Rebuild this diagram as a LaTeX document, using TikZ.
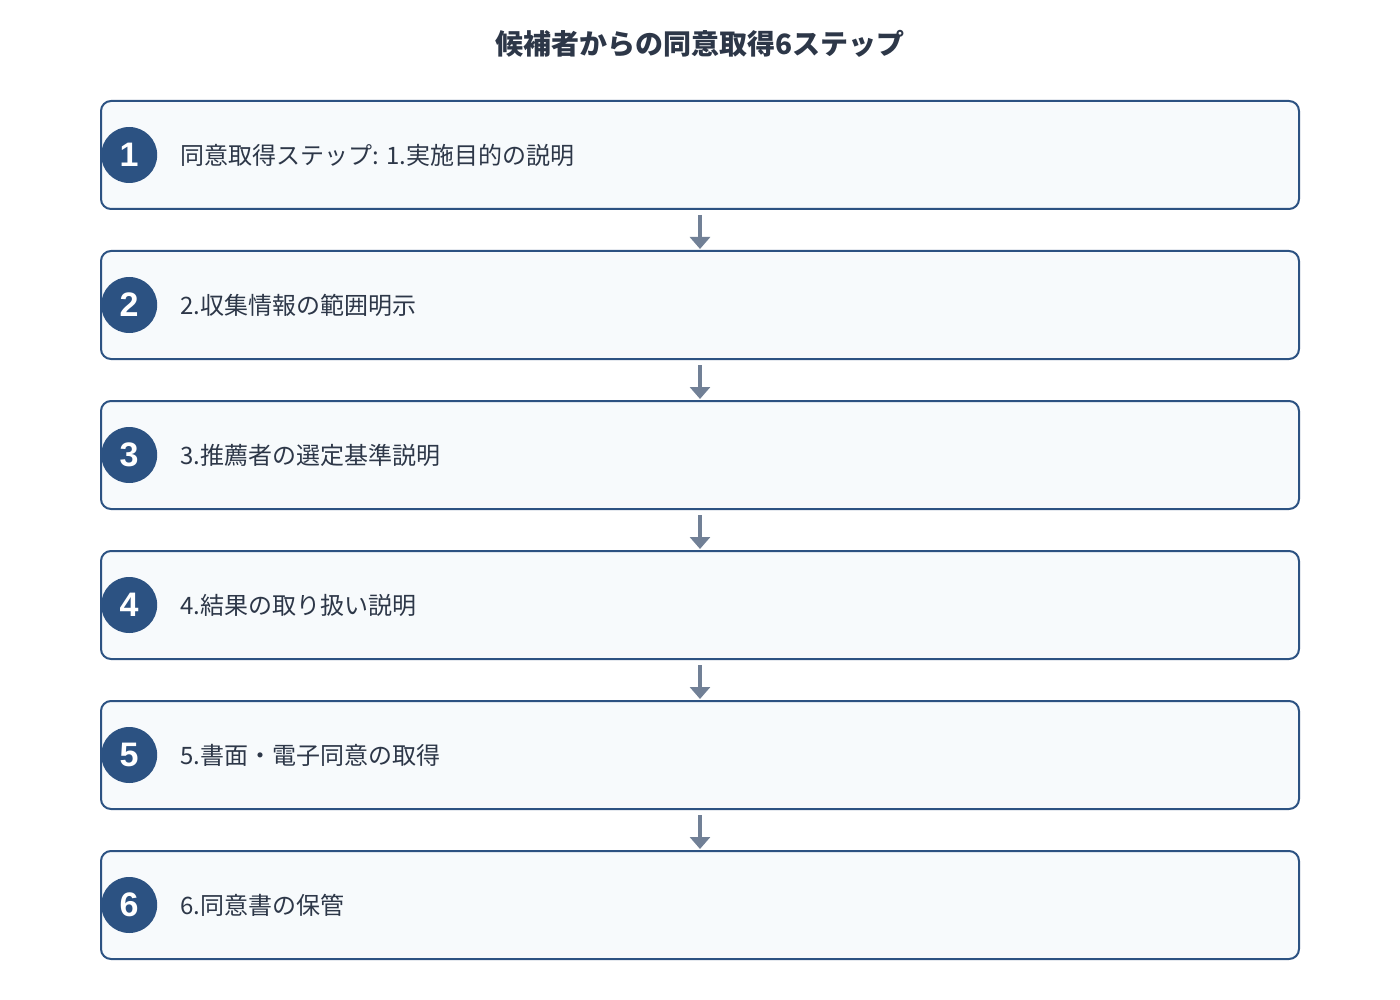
\documentclass[tikz,border=0pt]{standalone}
\usepackage{fontspec}
\usepackage[dvipsnames]{xcolor}
\usetikzlibrary{positioning,arrows.meta}
\newfontfamily\jp{Noto Sans CJK JP}
\newfontfamily\numfont{Liberation Sans}
\definecolor{stepblue}{HTML}{2C5282}
\definecolor{stepfill}{HTML}{F7FAFC}
\definecolor{arrowgray}{HTML}{718096}
\definecolor{textdark}{HTML}{2D3748}

\begin{document}
\begin{tikzpicture}[x=1pt,y=-1pt,>={Triangle[width=20pt,length=12pt]},shorten >=1pt,shorten <=5pt,node distance=150pt,
    step box/.style={draw=stepblue,line width=2pt,fill=stepfill,rounded corners=10pt,minimum width=1198pt,minimum height=108pt},
    num node/.style={circle,fill=stepblue,text=white,minimum size=56pt,inner sep=0pt,font=\numfont\bfseries\fontsize{34}{34}\selectfont},
    label node/.style={inner sep=0pt,text=textdark,font=\jp\fontsize{24}{28}\selectfont},
    link/.style={->,draw=arrowgray,line width=4pt}]

                    \useasboundingbox (0,0) rectangle (1400,1000);

                    \node (title) [text=textdark,font=\jp\bfseries\fontsize{28}{32}\selectfont] at (700,44) {候補者からの同意取得6ステップ};

                    \node (1) [step box] at (700,155) {};
                    \node (2) [step box,below of=1] {};
                    \node (3) [step box,below of=2] {};
                    \node (4) [step box,below of=3] {};
                    \node (5) [step box,below of=4] {};
                    \node (6) [step box,below of=5] {};

                    \node (n1) [num node,right=1pt of 1.west] {1};
                    \node (n2) [num node,right=1pt of 2.west] {2};
                    \node (n3) [num node,right=1pt of 3.west] {3};
                    \node (n4) [num node,right=1pt of 4.west] {4};
                    \node (n5) [num node,right=1pt of 5.west] {5};
                    \node (n6) [num node,right=1pt of 6.west] {6};

                    \node (t1) [label node,right=23pt of n1] {同意取得ステップ: 1.実施目的の説明};
                    \node (t2) [label node,right=23pt of n2] {2.収集情報の範囲明示};
                    \node (t3) [label node,right=23pt of n3] {3.推薦者の選定基準説明};
                    \node (t4) [label node,right=23pt of n4] {4.結果の取り扱い説明};
                    \node (t5) [label node,right=23pt of n5] {5.書面・電子同意の取得};
                    \node (t6) [label node,right=23pt of n6] {6.同意書の保管};

                    \path
                    (1) edge[link] (2)
                    (2) edge[link] (3)
                    (3) edge[link] (4)
                    (4) edge[link] (5)
                    (5) edge[link] (6)
                        ;
                \end{tikzpicture}
\end{document}
